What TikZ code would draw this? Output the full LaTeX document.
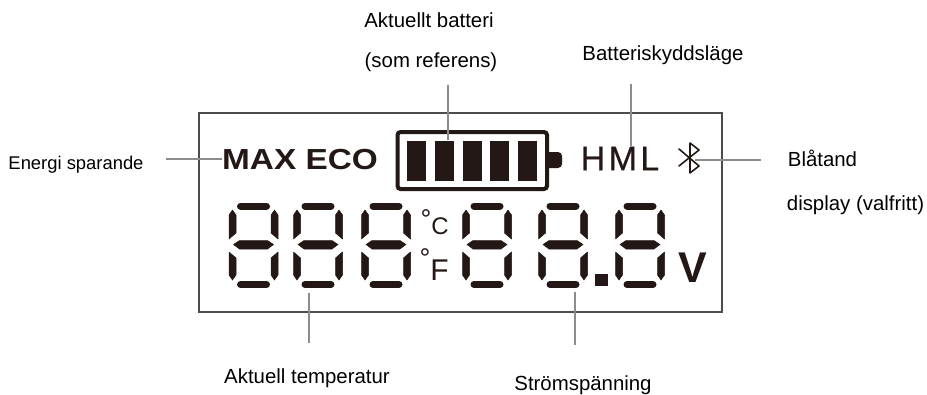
\documentclass[tikz,border=0pt]{standalone}
\usepackage{fontspec}
\setmainfont{Liberation Sans}
\newfontfamily\lcdwide[LetterSpace=10,FakeBold=0.6]{Liberation Sans}
\definecolor{lead}{gray}{0.55}
\definecolor{ink}{HTML}{231815}
\tikzset{
  caption/.style={font=\fontsize{20.4}{24}\selectfont, text=black, inner sep=0pt},
  leader/.style={draw=lead, line width=1.2pt},
  seghor/.style={draw=ink, line width=7pt, line cap=round},
  segfill/.style={fill=ink, draw=ink, line width=0.5pt, line join=round},
  lcd/.style={text=ink, inner sep=0pt}
}
\begin{document}
\begin{tikzpicture}[x=1pt, y=-1pt]
    \useasboundingbox (0,0) rectangle (927,394);

    % display frame
    \draw[draw=black!70, line width=1.5pt] (199,113) rectangle (722,312);

    % battery
    \draw[draw=ink, line width=4pt, rounded corners=3pt] (397.5,132) rectangle (547,189);
    \fill[ink, rounded corners=4pt] (545,152) -- (562,152) -- (562,168) -- (545,168) -- cycle;
    \foreach \bx in {407, 435, 463, 490, 518} {
      \fill[ink] (\bx,141) rectangle ++(18.5,40);
    }

    % seven segment digits
    \foreach \dx in {253.5, 318, 386, 487, 563, 640} {
      \begin{scope}[shift={(\dx,0)}]
        \draw[seghor] (-13,206) -- (13,206);
        \draw[seghor] (-13,284.5) -- (13,284.5);
        \fill[segfill] (-20,244.5) -- (-14,240.5) -- (14,240.5) -- (20,244.5) -- (14,249) -- (-14,249) -- cycle;
        \foreach \sx in {-1,1} {
          \begin{scope}[xscale=\sx]
            \fill[segfill] (21,210) -- (24.5,215) -- (24.5,239) -- (17.5,233) -- (17.5,215) -- cycle;
            \fill[segfill] (24.5,252) -- (17.5,258) -- (17.5,275) -- (21,280) -- (24.5,275) -- cycle;
          \end{scope}
        }
      \end{scope}
    }
    \fill[ink] (595,274) rectangle (608,286);

    % symbols
    \node[lcd, font=\fontsize{29}{29}\selectfont\bfseries, xscale=1.15] (modes) at (300,159.5) {MAX ECO};
    \node[lcd, font=\fontsize{34}{34}\selectfont\lcdwide] (hml) at (620,158.5) {HML};
    \node[lcd, font=\fontsize{24}{24}\selectfont, anchor=base east] (cel) at (449,234) {\raisebox{5.5pt}{\fontsize{27}{27}\selectfont °}C};
    \node[lcd, font=\fontsize{30}{30}\selectfont, anchor=base east] (fah) at (449,280) {\raisebox{13pt}{\fontsize{27}{27}\selectfont °}F};
    \node[lcd, font=\fontsize{43}{43}\selectfont\bfseries] (volt) at (693,267.5) {V};
    \draw[draw=ink, line width=1.6pt, line join=round, line cap=round]
      (679,149) -- (699,166) -- (690,173) -- (690,143) -- (699,150) -- (679,166);

    % free ends on the symbols
    \coordinate (EN) at (222,159);
    \coordinate (BA) at (448,140);
    \coordinate (HM) at (631,146);
    \coordinate (BT) at (695,160);
    \coordinate (TE) at (309,293);
    \coordinate (SP) at (575,292);

    % captions
    \node[caption] (batt1) at (429,20) {Aktuellt batteri};
    \node[caption] (batt2) at (431,62) {(som referens)};
    \node[caption] (prot) at (663,55) {Batteriskyddsläge};
    \node[caption, font=\fontsize{18.4}{22}\selectfont] (energy) at (76,165) {Energi sparande};
    \node[caption] (blue) at (822.5,158) {Blåtand};
    \node[caption] (disp) at (855.5,205) {display (valfritt)};
    \node[caption] (temp) at (307,378) {Aktuell temperatur};
    \node[caption] (volts) at (583,385) {Strömspänning};

    % leaders
    \draw[leader] (448,85) coordinate (B0) -- (BA);
    \draw[leader] (631,84) coordinate (H0) -- (HM);
    \draw[leader] (166,159) coordinate (E0) -- (EN);
    \draw[leader] (761,160) coordinate (B1) -- (BT);
    \draw[leader] (309,343) coordinate (T0) -- (TE);
    \draw[leader] (575,345) coordinate (S0) -- (SP);
\end{tikzpicture}
\end{document}
